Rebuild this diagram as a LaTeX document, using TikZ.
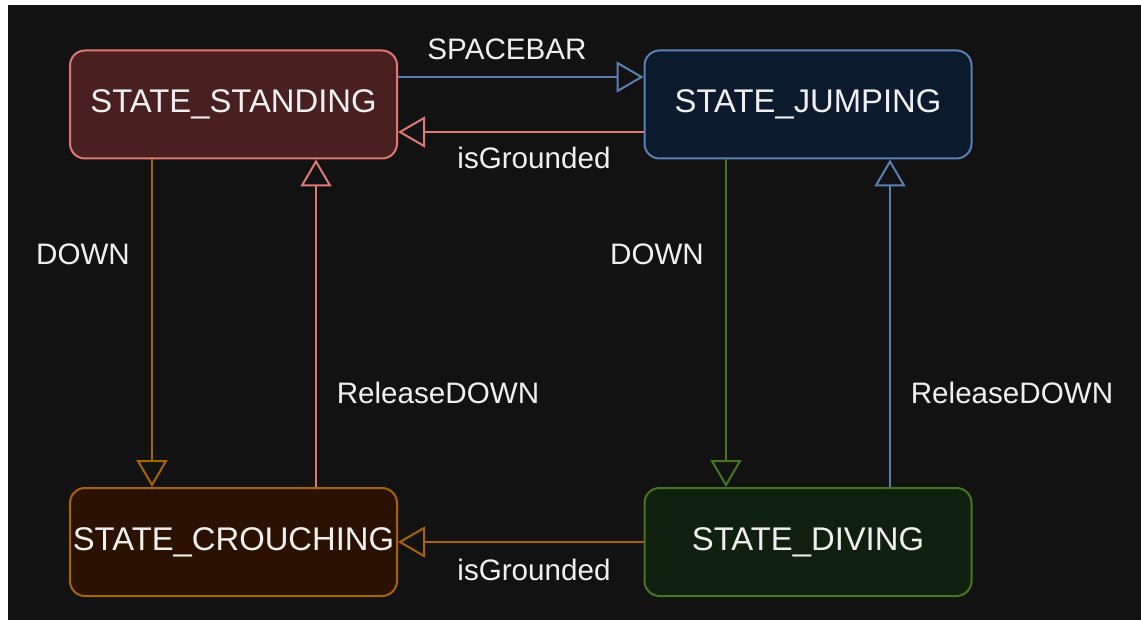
\documentclass[tikz,border=0pt]{standalone}
\usepackage{fontspec}
\setmainfont{Liberation Sans}
\usetikzlibrary{arrows.meta}
\definecolor{bgc}{HTML}{121212}
\definecolor{stdfill}{HTML}{4A1F1F}
\definecolor{stdline}{HTML}{E07873}
\definecolor{jmpfill}{HTML}{0C1A2D}
\definecolor{jmpline}{HTML}{5A7FB2}
\definecolor{crfill}{HTML}{2B1200}
\definecolor{crline}{HTML}{A86400}
\definecolor{dvfill}{HTML}{10200F}
\definecolor{dvline}{HTML}{45751F}
\definecolor{txt}{HTML}{F0F0F0}
\tikzset{
  state/.style={rectangle, rounded corners=15pt, line width=2pt, minimum width=327pt, minimum height=108pt,
    inner sep=0pt, text=txt, font=\fontsize{32.8}{38}\selectfont},
  conn/.style={line width=2pt, -{Triangle[open, length=27pt, width=31pt, line width=2pt]}},
  lbl/.style={text=txt, font=\fontsize{29.6}{34}\selectfont, inner sep=0pt}
}
\begin{document}
\begin{tikzpicture}[x=1pt, y=-1pt]
\useasboundingbox (0,0) rectangle (1141,620);
\fill[white] (0,0) rectangle (1141,620);
\fill[bgc] (8,5) rectangle (1141,620);
\node[state, draw=stdline, fill=stdfill] (std) at (233.5,104.5) {STATE\_STANDING};
\node[state, draw=jmpline, fill=jmpfill] (jmp) at (808,104.5) {STATE\_JUMPING};
\node[state, draw=crline, fill=crfill] (cr) at (233.5,542) {STATE\_CROUCHING};
\node[state, draw=dvline, fill=dvfill] (dv) at (808,542) {STATE\_DIVING};
\draw[conn, jmpline] ([yshift=27.5pt]std.east) -- ([yshift=27.5pt]jmp.west);
\draw[conn, stdline] ([yshift=-27.5pt]jmp.west) -- ([yshift=-27.5pt]std.east);
\draw[conn, crline] ([xshift=-81.5pt]std.south) -- ([xshift=-81.5pt]cr.north);
\draw[conn, stdline] ([xshift=82.5pt]cr.north) -- ([xshift=82.5pt]std.south);
\draw[conn, dvline] ([xshift=-82pt]jmp.south) -- ([xshift=-82pt]dv.north);
\draw[conn, jmpline] ([xshift=82pt]dv.north) -- ([xshift=82pt]jmp.south);
\draw[conn, crline] (dv.west) -- (cr.east);
\node[lbl] (l1) at (507,49) {SPACEBAR};
\node[lbl] (l2) at (534,158) {isGrounded};
\node[lbl] (l3) at (83,254) {DOWN};
\node[lbl] (l4) at (438,393) {ReleaseDOWN};
\node[lbl] (l5) at (657,254) {DOWN};
\node[lbl] (l6) at (1012,393) {ReleaseDOWN};
\node[lbl] (l7) at (534,570) {isGrounded};
\end{tikzpicture}
\end{document}
